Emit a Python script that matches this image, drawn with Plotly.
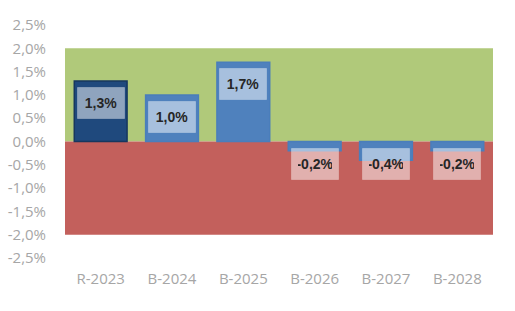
import plotly.graph_objects as go

categories = ["R-2023", "B-2024", "B-2025", "B-2026", "B-2027", "B-2028"]
values = [1.3, 1.0, 1.7, -0.2, -0.4, -0.2]
bar_colors = ["#1F497D", "#4F81BD", "#4F81BD", "#4F81BD", "#4F81BD", "#4F81BD"]
line_colors = ["#17375E", "#4A7EBB", "#4A7EBB", "#4A7EBB", "#4A7EBB", "#4A7EBB"]
band_upper = 2.0
band_lower = -2.0
y_ticks = [2.5, 2.0, 1.5, 1.0, 0.5, 0.0, -0.5, -1.0, -1.5, -2.0, -2.5]


def pct(v):
    return f"{v:.1f}".replace(".", ",") + "%"


fig = go.Figure()
fig.add_trace(go.Bar(
    x=categories, y=values, width=0.74,
    marker=dict(color=bar_colors, line=dict(color=line_colors, width=1.5)),
    hoverinfo="skip",
))

# background bands
fig.add_shape(type="rect", xref="x", yref="y", x0=-0.5, x1=5.5, y0=0, y1=band_upper,
              fillcolor="#B0C97A", line=dict(width=0), layer="below")
fig.add_shape(type="rect", xref="x", yref="y", x0=-0.5, x1=5.5, y0=band_lower, y1=0,
              fillcolor="#C3605C", line=dict(width=0), layer="below")

for c, v in zip(categories, values):
    fig.add_annotation(
        x=c, y=v if v > 0 else 0, yanchor="top", yshift=-6, showarrow=False,
        text=f"<b>{pct(v)}</b>",
        font=dict(family="Liberation Sans, Arial", size=14, color="#262626"),
        width=34, height=18,
        bgcolor="rgba(255,255,255,0.5)", bordercolor="rgba(255,255,255,0.25)",
        borderwidth=1, borderpad=6,
    )

tick_font = dict(family="Open Sans, Liberation Sans", size=15, color="#A6A6A6")
fig.update_layout(
    width=515, height=311,
    margin=dict(l=65, r=22, t=25, b=53),
    paper_bgcolor="white", plot_bgcolor="white",
    showlegend=False,
    xaxis=dict(range=[-0.5, 5.5], showgrid=False, zeroline=False, showline=False,
               tickfont=tick_font, ticks="", ticklabelstandoff=10, automargin=False),
    yaxis=dict(range=[-2.5, 2.5], tickvals=y_ticks, ticktext=[pct(t) for t in y_ticks],
               showgrid=False, zeroline=False, showline=False, ticks="",
               tickfont=tick_font, ticklabelstandoff=18, automargin=False),
)

fig.write_html("out.html")
